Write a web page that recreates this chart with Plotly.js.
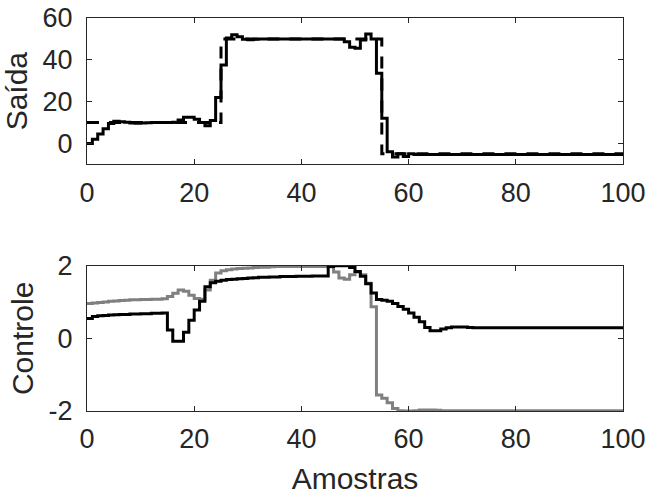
<!DOCTYPE html>
<html>
<head>
<meta charset="utf-8">
<script src="https://cdn.plot.ly/plotly-3.0.1.min.js"></script>
<style>html,body{margin:0;padding:0;background:#fff;}#chart{width:648px;height:495px;}</style>
</head>
<body>
<div id="chart"></div>
<script>
// Sample index (Amostras)
const amostras = Array.from({length: 101}, (_, k) => k);

// Reference (dashed) for Saída
const referencia = [
  10,10,10,10,10,10,10,10,10,10, 10,10,10,10,10,10,10,10,10,10,
  10,10,10,10,10,50,50,50,50,50, 50,50,50,50,50,50,50,50,50,50,
  50,50,50,50,50,50,50,50,50,50, 50,50,50,50,50,-5,-5,-5,-5,-5,
  -5,-5,-5,-5,-5,-5,-5,-5,-5,-5, -5,-5,-5,-5,-5,-5,-5,-5,-5,-5,
  -5,-5,-5,-5,-5,-5,-5,-5,-5,-5, -5,-5,-5,-5,-5,-5,-5,-5,-5,-5, -5
];

// Output (solid) Saída
const saida = [
  0,2,4.5,7,9.5,10.6,10.4,10.1,9.8,9.7, 9.8,9.9,10,10,10,10,10.1,11.2,12.5,12.5,
  11.5,10,8.4,11,22,37.5,50.4,52,51,49.8, 49.6,49.8,49.9,50,50,50,50,50,50,50,
  50,50,50,50,50,50,50,50,48.6,46, 45.5,49.5,52.4,50,33.6,12,-4,-6.5,-5,-6.3,
  -5,-5.3,-5.3,-5.3,-5.3,-5.3,-5.3,-5.3,-5.3,-5.3, -5.3,-5.3,-5.3,-5.3,-5.3,-5.3,-5.3,-5.3,-5.3,-5.3,
  -5.3,-5.3,-5.3,-5.3,-5.3,-5.3,-5.3,-5.3,-5.3,-5.3, -5.3,-5.3,-5.3,-5.3,-5.3,-5.3,-5.3,-5.3,-5.3,-5.3, -5.3
];

// Control signal 1 (black)
const controle1 = [
  0.55,0.60,0.62,0.63,0.64,0.65,0.66,0.66,0.67,0.67, 0.68,0.68,0.69,0.69,0.70,0.23,-0.08,-0.08,0.17,0.50,
  0.78,1.02,1.42,1.53,1.57,1.60,1.62,1.63,1.64,1.65, 1.66,1.67,1.68,1.68,1.69,1.69,1.70,1.70,1.70,1.71,
  1.71,1.71,1.72,1.72,1.72,1.98,2.00,2.00,2.00,1.95, 1.84,1.71,1.50,1.25,1.07,1.05,1.02,0.96,0.88,0.80,
  0.70,0.58,0.46,0.30,0.21,0.21,0.26,0.29,0.31,0.31, 0.31,0.30,0.29,0.29,0.29,0.29,0.29,0.29,0.29,0.29,
  0.29,0.29,0.29,0.29,0.29,0.29,0.29,0.29,0.29,0.29, 0.29,0.29,0.29,0.29,0.29,0.29,0.29,0.29,0.29,0.29, 0.29
];

// Control signal 2 (gray)
const controle2 = [
  0.96,0.97,0.99,1.00,1.02,1.03,1.04,1.05,1.06,1.06, 1.07,1.07,1.08,1.08,1.09,1.15,1.24,1.33,1.30,1.19,
  1.10,1.08,1.33,1.60,1.80,1.86,1.89,1.91,1.92,1.93, 1.94,1.95,1.96,1.96,1.97,1.98,1.98,1.98,1.98,1.98,
  1.98,1.98,1.98,1.98,1.98,1.97,1.83,1.66,1.63,1.75, 1.83,1.75,1.52,0.87,-1.56,-1.65,-1.77,-1.93,-1.99,-2.00,
  -2.00,-1.99,-1.97,-1.97,-1.97,-1.98,-1.99,-1.99,-1.99,-1.99, -1.99,-1.99,-1.99,-1.99,-1.99,-1.99,-1.99,-1.99,-1.99,-1.99,
  -1.99,-1.99,-1.99,-1.99,-1.99,-1.99,-1.99,-1.99,-1.99,-1.99, -1.99,-1.99,-1.99,-1.99,-1.99,-1.99,-1.99,-1.99,-1.99,-1.99, -1.99
];

const xTicks = [0, 20, 40, 60, 80, 100];
const yTicksTop = [0, 20, 40, 60];
const yTicksBottom = [-2, 0, 2];
const yTickLabelsBottom = ['-2', '0', '2'];

const FONT = 'Liberation Sans, Arial, Helvetica, sans-serif';
const AX = '#262626';

const traces = [
  {x: amostras, y: referencia, xaxis: 'x', yaxis: 'y', mode: 'lines',
   line: {shape: 'hv', color: '#000', width: 3, dash: '12px,10px'}, hoverinfo: 'skip'},
  {x: amostras, y: saida, xaxis: 'x', yaxis: 'y', mode: 'lines',
   line: {shape: 'hv', color: '#000', width: 3}, hoverinfo: 'skip'},
  {x: amostras, y: controle2, xaxis: 'x2', yaxis: 'y2', mode: 'lines',
   line: {shape: 'hv', color: '#808080', width: 3}, hoverinfo: 'skip'},
  {x: amostras, y: controle1, xaxis: 'x2', yaxis: 'y2', mode: 'lines',
   line: {shape: 'hv', color: '#000', width: 3}, hoverinfo: 'skip'}
];

const axBase = {
  showline: true, mirror: 'ticks', ticks: 'inside', ticklen: 5, tickwidth: 1,
  linecolor: AX, tickcolor: AX, linewidth: 1, showgrid: false, zeroline: false,
  tickfont: {family: FONT, size: 27, color: AX}
};

const layout = {
  width: 648, height: 495,
  margin: {l: 87, r: 25, t: 18, b: 84},
  paper_bgcolor: '#fff', plot_bgcolor: '#fff',
  showlegend: false,
  font: {family: FONT, color: AX},
  xaxis: Object.assign({}, axBase, {domain: [0, 1], anchor: 'y', range: [0, 100],
    tickvals: xTicks, ticklabelstandoff: 4}),
  yaxis: Object.assign({}, axBase, {domain: [0.6277, 1], anchor: 'x', range: [-10, 60],
    tickvals: yTicksTop, ticklabelstandoff: 8,
    title: {text: 'Saída', font: {family: FONT, size: 30, color: AX}, standoff: 6}}),
  xaxis2: Object.assign({}, axBase, {domain: [0, 1], anchor: 'y2', range: [0, 100],
    tickvals: xTicks, ticklabelstandoff: 4,
    title: {text: 'Amostras', font: {family: FONT, size: 30, color: AX}, standoff: 16}}),
  yaxis2: Object.assign({}, axBase, {domain: [0, 0.3697], anchor: 'x2', range: [-2, 2],
    tickvals: yTicksBottom, ticktext: yTickLabelsBottom, ticklabelstandoff: 8,
    title: {text: 'Controle', font: {family: FONT, size: 30, color: AX}, standoff: 6}})
};

Plotly.newPlot('chart', traces, layout, {staticPlot: true, displayModeBar: false});
</script>
</body>
</html>
